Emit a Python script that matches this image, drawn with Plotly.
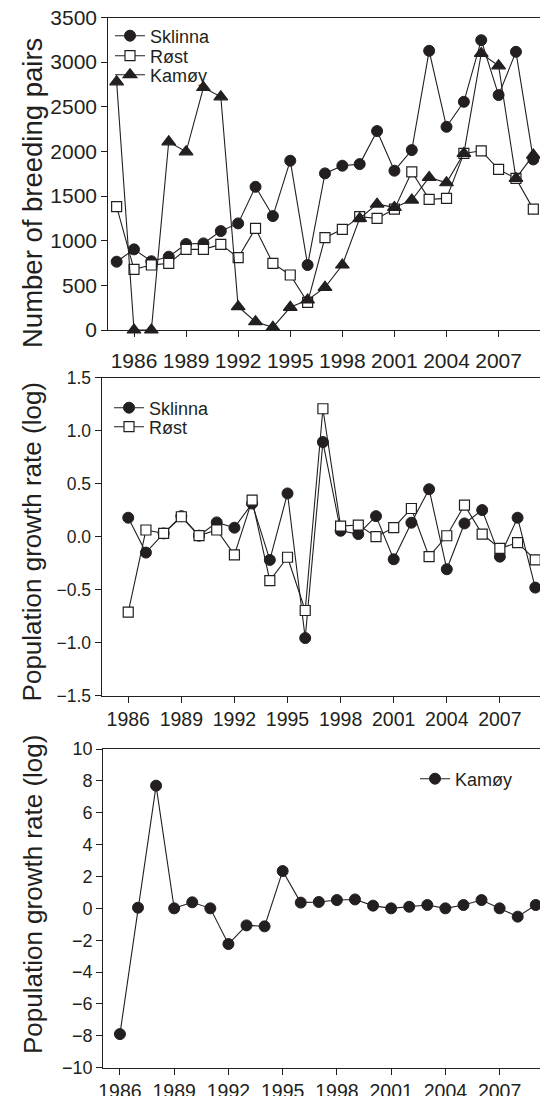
import plotly.graph_objects as go

# ---------------- data ----------------
years_pop = list(range(1985, 2010))
sklinna_pairs = [765, 903, 770, 821, 963, 970, 1108, 1194, 1604, 1276, 1896, 728, 1754, 1840,
                 1858, 2228, 1784, 2015, 3127, 2276, 2556, 3246, 2631, 3116, 1910]
rost_pairs = [1381, 679, 728, 746, 903, 903, 959, 810, 1138, 746, 616, 310, 1034, 1127,
              1269, 1250, 1354, 1772, 1463, 1474, 1978, 2007, 1799, 1698, 1354]
kamoy_pairs = [2780, 0, 0, 2108, 1996, 2716, 2612, 261, 93, 30, 254, 336, 478, 728,
               1250, 1410, 1373, 1455, 1709, 1649, 1978, 3097, 2959, 1698, 1959]

years_gr = list(range(1986, 2010))
sklinna_gr = [0.179, -0.150, 0.031, 0.194, 0.010, 0.135, 0.085, 0.313, -0.219, 0.408, -0.956,
              0.893, 0.056, 0.025, 0.194, -0.213, 0.132, 0.448, -0.307, 0.125, 0.251, -0.188,
              0.179, -0.480]
rost_gr = [-0.712, 0.063, 0.031, 0.188, 0.010, 0.063, -0.172, 0.345, -0.414, -0.194, -0.696,
           1.207, 0.100, 0.110, 0.000, 0.085, 0.266, -0.188, 0.009, 0.298, 0.025, -0.110,
           -0.056, -0.219]
kamoy_gr = [-7.89, 0.04, 7.70, 0.00, 0.38, 0.00, -2.24, -1.07, -1.13, 2.34, 0.36,
            0.40, 0.52, 0.56, 0.17, 0.00, 0.10, 0.21, 0.00, 0.21, 0.52, 0.00, -0.52, 0.21]

year_ticks = [1986, 1989, 1992, 1995, 1998, 2001, 2004, 2007]
title_top = "Number of breeding pairs"
title_growth = "Population growth rate (log)"

# ---------------- style ----------------
INK = "#231f20"
FONT = "Liberation Sans, Arial, Helvetica, sans-serif"
# the page body keeps its default 8px margin, so the figure is drawn 8px smaller
# and all page-pixel positions are shifted by that offset
OFF = 8
W, H = 548 - OFF, 1096 - OFF


def px_x(x):
    return (x - OFF) / W


def px_y(y):
    return 1 - (y - OFF) / H


def xdom(l, r):
    return [px_x(l), px_x(r)]


def ydom(top, bottom):
    return [px_y(bottom), px_y(top)]


circle = dict(symbol="circle", size=11, color=INK, line=dict(color=INK, width=1))
square = dict(symbol="square", size=10, color="white", line=dict(color=INK, width=1.2))
triangle = dict(symbol="triangle-up", size=12, color=INK, line=dict(color=INK, width=1.2))
line = dict(color=INK, width=1.1)

fig = go.Figure()


def add(x, y, name, marker, ax, leg):
    fig.add_trace(go.Scatter(x=x, y=y, name=name, mode="lines+markers", marker=marker, line=line,
                             xaxis="x" + ax, yaxis="y" + ax, legend=leg, cliponaxis=False))


# top panel
add(years_pop, sklinna_pairs, "Sklinna", circle, "", "legend")
add(years_pop, rost_pairs, "Røst", square, "", "legend2")
add(years_pop, kamoy_pairs, "Kamøy", triangle, "", "legend3")
# middle panel
add(years_gr, sklinna_gr, "Sklinna", circle, "2", "legend4")
add(years_gr, rost_gr, "Røst", square, "2", "legend5")
# bottom panel
add(years_gr, kamoy_gr, "Kamøy", circle, "3", "legend6")


def axis(fs, standoff=0):
    return dict(showline=True, mirror=True, linecolor=INK, linewidth=1.2, ticks="outside",
                ticklen=6, tickwidth=1.2, tickcolor=INK, showgrid=False, zeroline=False,
                automargin=False, ticklabeloverflow="allow", ticklabelstandoff=standoff,
                tickfont=dict(family=FONT, size=fs, color=INK))


def xaxis(fs, standoff=0):
    return dict(axis(fs, standoff), tickmode="array", tickvals=year_ticks,
                ticktext=[str(y) for y in year_ticks])


def legend(xpx, ypx):
    return dict(font=dict(family=FONT, size=18, color=INK), bgcolor="rgba(0,0,0,0)",
                borderwidth=0, xanchor="left", yanchor="middle", itemwidth=30,
                x=px_x(xpx), y=px_y(ypx))


def ytitle(text, xpx, ypx, fs):
    return dict(text=text, xref="paper", yref="paper", x=px_x(xpx), y=px_y(ypx),
                xanchor="center", yanchor="middle", textangle=-90, showarrow=False,
                font=dict(family=FONT, size=fs, color=INK))


fig.update_layout(
    template="none",
    width=W, height=H, margin=dict(l=0, r=0, t=0, b=0, autoexpand=False),
    paper_bgcolor="white", plot_bgcolor="white",
    font=dict(family=FONT, color=INK),
    xaxis=dict(xaxis(21, 6), domain=xdom(108.3, 542.7), range=[1984.52, 2009.54], anchor="y"),
    yaxis=dict(axis(21), domain=ydom(17.5, 330), range=[0, 3500], dtick=500, anchor="x"),
    xaxis2=dict(xaxis(19.5), domain=xdom(101.7, 545), range=[1984.5, 2009.55], anchor="y2"),
    yaxis2=dict(axis(17.5), domain=ydom(377.7, 695.7), range=[-1.5, 1.5], dtick=0.5,
                tickformat=".1f", anchor="x2"),
    xaxis3=dict(xaxis(19.5), domain=xdom(103.3, 545), range=[1985.08, 2009.51], anchor="y3"),
    yaxis3=dict(axis(18), domain=ydom(749, 1067.7), range=[-10, 10], dtick=2, anchor="x3"),
    annotations=[
        ytitle(title_top, 32, 193, 27.5),
        ytitle(title_growth, 32, 542.4, 26),
        ytitle(title_growth, 33, 895, 26),
    ],
    legend=legend(110, 36),
    legend2=legend(110, 56),
    legend3=legend(110, 75),
    legend4=legend(109, 408),
    legend5=legend(109, 427),
    legend6=legend(415, 779),
    showlegend=True,
)

fig.write_html("out.html")
